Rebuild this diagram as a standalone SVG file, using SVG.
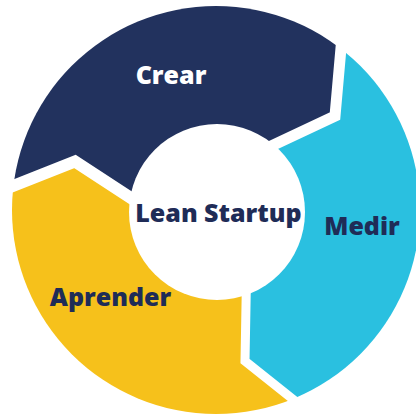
<svg xmlns="http://www.w3.org/2000/svg" width="416" height="415" viewBox="0 0 416 415">
<defs>
<clipPath id="ring"><circle cx="216" cy="210" r="204"/></clipPath>
<style>
.lbl{font-family:"Open Sans","Noto Sans","DejaVu Sans",sans-serif;font-weight:800;font-size:25px;text-anchor:middle}
.dark{fill:#1f2c57}
.gap{fill:none;stroke:#ffffff;stroke-linejoin:miter;stroke-miterlimit:10}
</style>
</defs>
<rect width="416" height="415" fill="#ffffff"/>
<g clip-path="url(#ring)">
<g id="crear"><polygon points="216,211 160,217 130.5,197.5 75,161.5 16,185 -20,199 -20,-20 347,-20 341,50 335,116 277,143 250,156" fill="#22325e"/></g>
<g id="medir"><polygon points="216,211 250,156 277,143 335,116 341,50 347,-20 440,-20 440,440 344,440 294,400 245,361 246,296 247,250" fill="#2ac0e0"/></g>
<g id="aprender"><polygon points="216,211 247,250 246,296 245,361 294,400 344,440 -20,440 -20,199 16,185 75,161.5 130.5,197.5 160,217" fill="#f6c11b"/></g>
</g>
<g id="connectors">
<polyline class="gap" stroke-width="11" points="250,156 335,116 347,-20"/>
<polyline class="gap" stroke-width="9" points="247,250 245,361 344,440"/>
<polyline class="gap" stroke-width="12" points="160,217 75,161.5 -20,199"/>
</g>
<g id="center">
<circle cx="217" cy="212" r="88" fill="#ffffff"/>
<text class="lbl dark" x="218.5" y="222">Lean Startup</text>
</g>
<text class="lbl" x="171" y="84" fill="#ffffff">Crear</text>
<text class="lbl dark" x="362" y="235">Medir</text>
<text class="lbl dark" x="110.5" y="306">Aprender</text>
</svg>
